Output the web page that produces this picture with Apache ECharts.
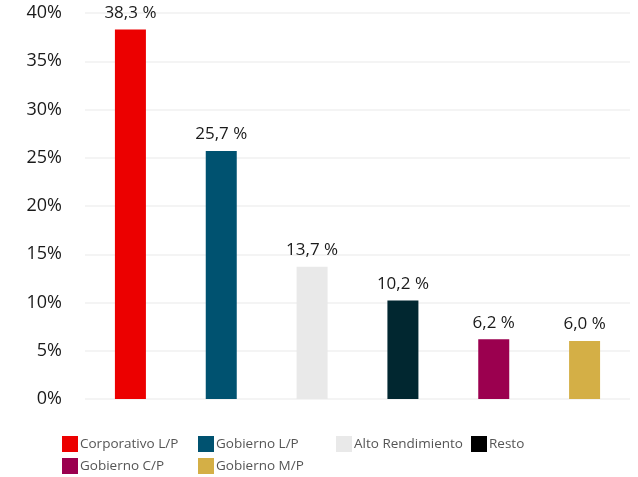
<!DOCTYPE html>
<html>
<head>
<meta charset="utf-8">
<script src="https://cdn.jsdelivr.net/npm/echarts@6/dist/echarts.min.js"></script>
<style>
  html, body { margin: 0; padding: 0; background: #fff; }
  #chart { width: 638px; height: 477px; }
</style>
</head>
<body>
<div id="chart"></div>
<script>
// categorías y valores (% de la cartera)
var categories = ['Corporativo L/P', 'Gobierno L/P', 'Alto Rendimiento', 'Resto', 'Gobierno C/P', 'Gobierno M/P'];
var values = [38.3, 25.7, 13.7, 10.2, 6.2, 6.0];
var colors = ['#ec0000', '#005270', '#e9e9e9', '#012730', '#9b004f', '#d4af46'];
var legendColors = ['#ec0000', '#005270', '#e9e9e9', '#000000', '#9b004f', '#d4af46'];
var yTicks = [0, 5, 10, 15, 20, 25, 30, 35, 40];

// posiciones de la leyenda (dos filas)
var legendPos = [[62, 436], [198, 436], [336, 436], [471, 436], [62, 458], [198, 458]];

var chart = echarts.init(document.getElementById('chart'));

var series = categories.map(function (name, i) {
  return {
    name: name,
    type: 'bar',
    stack: 'total',
    barWidth: 31,
    itemStyle: { color: colors[i] },
    label: {
      show: true,
      position: 'top',
      distance: 8,
      color: '#1a1a1a',
      fontSize: 17,
      fontFamily: 'Open Sans',
      formatter: function (p) {
        return p.value.toFixed(1).replace('.', ',') + ' %';
      }
    },
    data: categories.map(function (c, j) { return j === i ? values[i] : '-'; })
  };
});

var legends = categories.map(function (name, i) {
  return {
    data: [{ name: name, itemStyle: { color: legendColors[i] } }],
    left: legendPos[i][0],
    top: legendPos[i][1],
    padding: 0,
    itemWidth: 16,
    itemHeight: 16,
    icon: 'rect',
    selectedMode: false,
    textStyle: {
      color: '#555',
      fontSize: 13.5,
      fontFamily: 'Open Sans',
      padding: [0, 0, 0, -3]
    }
  };
});

chart.setOption({
  animation: false,
  grid: { left: 85, right: 8, top: 13, bottom: 78 },
  legend: legends,
  xAxis: {
    type: 'category',
    data: categories,
    axisLine: { show: false },
    axisTick: { show: false },
    axisLabel: { show: false }
  },
  yAxis: {
    type: 'value',
    min: yTicks[0],
    max: yTicks[yTicks.length - 1],
    interval: 5,
    axisLabel: {
      formatter: '{value}%',
      color: '#1a1a1a',
      fontSize: 18,
      fontFamily: 'Open Sans',
      margin: 23,
      padding: [6, 0, 0, 0]
    },
    splitLine: { lineStyle: { color: '#f0f0f0', width: 1.5 } }
  },
  series: series
});
</script>
</body>
</html>
